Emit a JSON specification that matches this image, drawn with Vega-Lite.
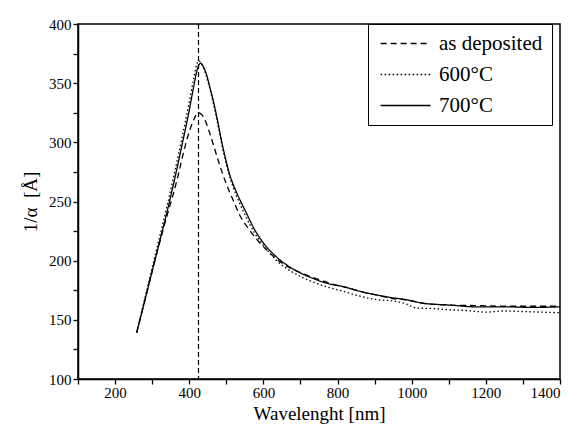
{
  "$schema": "https://vega.github.io/schema/vega-lite/v6.json",
  "width": 482,
  "height": 355,
  "autosize": "none",
  "padding": {"left": 78, "top": 24, "right": 17, "bottom": 54},
  "background": "white",
  "config": {
    "font": "Liberation Serif",
    "view": {"stroke": "black", "strokeWidth": 1.5},
    "axis": {
      "domainColor": "black", "domainWidth": 1.5, "tickColor": "black", "tickWidth": 1.3,
      "labelColor": "black", "labelFontSize": 15, "labelFont": "Liberation Serif",
      "titleColor": "black", "titleFont": "Liberation Serif", "titleFontWeight": "normal", "titleFontSize": 19,
      "grid": false
    }
  },
  "datasets": {
    "curves": [
      {"nm": 258, "v": 139, "s": "700°C"}, {"nm": 280, "v": 166, "s": "700°C"}, {"nm": 300, "v": 191, "s": "700°C"},
      {"nm": 320, "v": 216, "s": "700°C"}, {"nm": 340, "v": 241, "s": "700°C"}, {"nm": 360, "v": 268, "s": "700°C"},
      {"nm": 380, "v": 297, "s": "700°C"}, {"nm": 400, "v": 327, "s": "700°C"}, {"nm": 412, "v": 347, "s": "700°C"},
      {"nm": 422, "v": 362, "s": "700°C"}, {"nm": 431, "v": 367, "s": "700°C"}, {"nm": 438, "v": 364, "s": "700°C"},
      {"nm": 447, "v": 357, "s": "700°C"}, {"nm": 456, "v": 346, "s": "700°C"}, {"nm": 465, "v": 335, "s": "700°C"},
      {"nm": 474, "v": 322, "s": "700°C"}, {"nm": 490, "v": 297, "s": "700°C"}, {"nm": 510, "v": 272, "s": "700°C"},
      {"nm": 530, "v": 256, "s": "700°C"}, {"nm": 550, "v": 243, "s": "700°C"}, {"nm": 575, "v": 227, "s": "700°C"},
      {"nm": 600, "v": 215, "s": "700°C"}, {"nm": 636, "v": 203, "s": "700°C"}, {"nm": 680, "v": 193, "s": "700°C"},
      {"nm": 726, "v": 186, "s": "700°C"}, {"nm": 770, "v": 181, "s": "700°C"}, {"nm": 816, "v": 178, "s": "700°C"},
      {"nm": 861, "v": 174, "s": "700°C"}, {"nm": 906, "v": 171, "s": "700°C"}, {"nm": 941, "v": 169, "s": "700°C"},
      {"nm": 986, "v": 167, "s": "700°C"}, {"nm": 1031, "v": 164, "s": "700°C"}, {"nm": 1100, "v": 162.5, "s": "700°C"},
      {"nm": 1175, "v": 161, "s": "700°C"}, {"nm": 1250, "v": 161, "s": "700°C"}, {"nm": 1330, "v": 160.5, "s": "700°C"},
      {"nm": 1400, "v": 161, "s": "700°C"},

      {"nm": 258, "v": 139, "s": "600°C"}, {"nm": 280, "v": 168, "s": "600°C"}, {"nm": 300, "v": 194, "s": "600°C"},
      {"nm": 320, "v": 220, "s": "600°C"}, {"nm": 340, "v": 246, "s": "600°C"}, {"nm": 360, "v": 274, "s": "600°C"},
      {"nm": 380, "v": 303, "s": "600°C"}, {"nm": 400, "v": 334, "s": "600°C"}, {"nm": 412, "v": 354, "s": "600°C"},
      {"nm": 420, "v": 366, "s": "600°C"}, {"nm": 426, "v": 369, "s": "600°C"}, {"nm": 433, "v": 366, "s": "600°C"},
      {"nm": 440, "v": 362, "s": "600°C"}, {"nm": 447, "v": 355, "s": "600°C"}, {"nm": 456, "v": 345, "s": "600°C"},
      {"nm": 465, "v": 333, "s": "600°C"}, {"nm": 474, "v": 320, "s": "600°C"}, {"nm": 490, "v": 295, "s": "600°C"},
      {"nm": 510, "v": 270, "s": "600°C"}, {"nm": 530, "v": 253, "s": "600°C"}, {"nm": 550, "v": 239, "s": "600°C"},
      {"nm": 575, "v": 224, "s": "600°C"}, {"nm": 600, "v": 213, "s": "600°C"}, {"nm": 636, "v": 200, "s": "600°C"},
      {"nm": 680, "v": 190, "s": "600°C"}, {"nm": 726, "v": 183, "s": "600°C"}, {"nm": 770, "v": 178, "s": "600°C"},
      {"nm": 816, "v": 174, "s": "600°C"}, {"nm": 861, "v": 170, "s": "600°C"}, {"nm": 906, "v": 167, "s": "600°C"},
      {"nm": 950, "v": 166, "s": "600°C"}, {"nm": 980, "v": 164, "s": "600°C"}, {"nm": 1013, "v": 160, "s": "600°C"},
      {"nm": 1060, "v": 159.5, "s": "600°C"}, {"nm": 1100, "v": 158.5, "s": "600°C"}, {"nm": 1140, "v": 158, "s": "600°C"},
      {"nm": 1175, "v": 157, "s": "600°C"}, {"nm": 1200, "v": 156.5, "s": "600°C"}, {"nm": 1250, "v": 157.5, "s": "600°C"},
      {"nm": 1300, "v": 157, "s": "600°C"}, {"nm": 1350, "v": 156.5, "s": "600°C"}, {"nm": 1400, "v": 156, "s": "600°C"},

      {"nm": 258, "v": 139, "s": "as deposited"}, {"nm": 280, "v": 166, "s": "as deposited"}, {"nm": 300, "v": 191, "s": "as deposited"},
      {"nm": 320, "v": 215, "s": "as deposited"}, {"nm": 340, "v": 238, "s": "as deposited"}, {"nm": 355, "v": 254, "s": "as deposited"},
      {"nm": 370, "v": 272, "s": "as deposited"}, {"nm": 385, "v": 292, "s": "as deposited"}, {"nm": 400, "v": 309, "s": "as deposited"},
      {"nm": 412, "v": 319, "s": "as deposited"}, {"nm": 424, "v": 325, "s": "as deposited"}, {"nm": 435, "v": 323, "s": "as deposited"},
      {"nm": 445, "v": 317, "s": "as deposited"}, {"nm": 455, "v": 308, "s": "as deposited"}, {"nm": 467, "v": 296, "s": "as deposited"},
      {"nm": 483, "v": 280, "s": "as deposited"}, {"nm": 501, "v": 264, "s": "as deposited"}, {"nm": 520, "v": 250, "s": "as deposited"},
      {"nm": 537, "v": 238, "s": "as deposited"}, {"nm": 560, "v": 227, "s": "as deposited"}, {"nm": 585, "v": 217, "s": "as deposited"},
      {"nm": 609, "v": 209, "s": "as deposited"}, {"nm": 650, "v": 198, "s": "as deposited"}, {"nm": 699, "v": 190, "s": "as deposited"},
      {"nm": 750, "v": 184, "s": "as deposited"}, {"nm": 788, "v": 180, "s": "as deposited"}, {"nm": 830, "v": 177, "s": "as deposited"},
      {"nm": 861, "v": 174, "s": "as deposited"}, {"nm": 906, "v": 171, "s": "as deposited"}, {"nm": 950, "v": 168, "s": "as deposited"},
      {"nm": 990, "v": 166.5, "s": "as deposited"}, {"nm": 1031, "v": 164, "s": "as deposited"}, {"nm": 1100, "v": 162.5, "s": "as deposited"},
      {"nm": 1175, "v": 162, "s": "as deposited"}, {"nm": 1250, "v": 161.5, "s": "as deposited"}, {"nm": 1330, "v": 161.5, "s": "as deposited"},
      {"nm": 1400, "v": 161.5, "s": "as deposited"}
    ],
    "marker": [{"nm": 425}]
  },
  "layer": [
    {
      "data": {"name": "curves"},
      "mark": {"type": "line", "interpolate": "monotone", "color": "black", "strokeWidth": 1.3},
      "encoding": {
        "x": {
          "field": "nm", "type": "quantitative",
          "scale": {"domain": [100, 1400], "nice": false, "zero": false},
          "axis": {
            "title": "Wavelenght [nm]", "titlePadding": 4,
            "values": [100, 200, 300, 400, 500, 600, 700, 800, 900, 1000, 1100, 1200, 1300, 1400],
            "labelExpr": "(datum.value % 200 == 0) ? ('' + datum.value) : ''",
            "tickSize": 5, "labelPadding": 1, "labelOverlap": false
          }
        },
        "y": {
          "field": "v", "type": "quantitative",
          "scale": {"domain": [100, 400], "nice": false, "zero": false},
          "axis": {
            "title": "1/α\u00a0\u00a0[Å]", "titlePadding": 8,
            "values": [100, 125, 150, 175, 200, 225, 250, 275, 300, 325, 350, 375, 400],
            "labelExpr": "(datum.value % 50 == 0) ? ('' + datum.value) : ''",
            "tickSize": 5, "labelPadding": 2, "labelOverlap": false
          }
        },
        "strokeDash": {
          "field": "s", "type": "nominal",
          "scale": {"domain": ["as deposited", "600°C", "700°C"], "range": [[6, 4], [1.5, 2.5], [1, 0]]},
          "legend": {
            "title": null, "orient": "none", "legendX": 290, "legendY": 0,
            "strokeColor": "black", "fillColor": "white", "padding": 9,
            "symbolType": "M-1.1,0H6.9", "symbolSize": 156, "symbolStrokeColor": "black", "symbolStrokeWidth": 1.3,
            "labelFontSize": 21, "labelColor": "black", "labelFont": "Liberation Serif", "labelOffset": 41,
            "rowPadding": 9, "labelLimit": 300
          }
        }
      }
    },
    {
      "data": {"name": "marker"},
      "mark": {"type": "rule", "color": "black", "strokeDash": [5, 3], "strokeWidth": 1.2},
      "encoding": {
        "x": {
          "field": "nm", "type": "quantitative",
          "axis": {
            "title": "Wavelenght [nm]", "titlePadding": 4,
            "values": [100, 200, 300, 400, 500, 600, 700, 800, 900, 1000, 1100, 1200, 1300, 1400],
            "labelExpr": "(datum.value % 200 == 0) ? ('' + datum.value) : ''",
            "tickSize": 5, "labelPadding": 1, "labelOverlap": false
          }
        }
      }
    }
  ]
}
